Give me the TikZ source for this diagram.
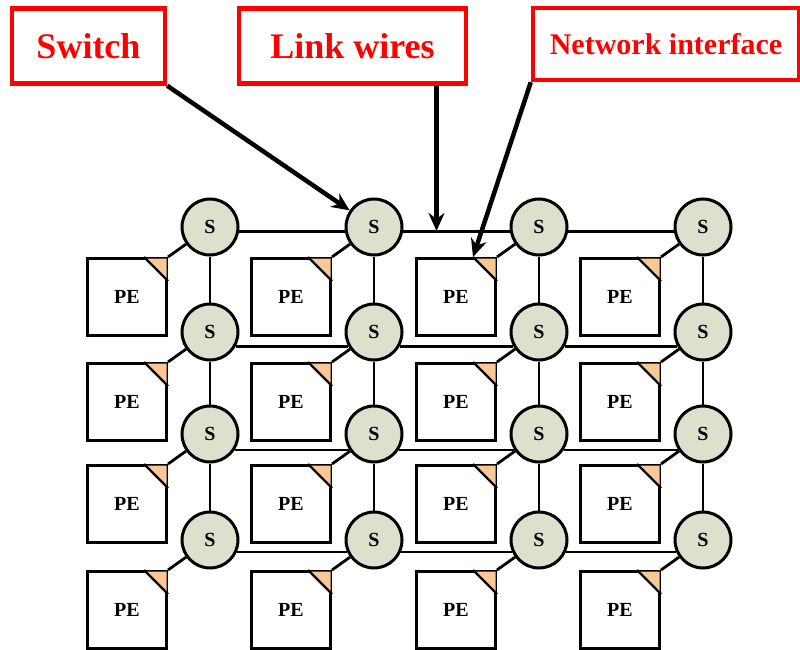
\documentclass[tikz,border=0pt]{standalone}
\usepackage{fontspec}
\setmainfont{Liberation Serif}
\usetikzlibrary{arrows.meta,calc}
\definecolor{swfill}{RGB}{221,224,204}
\definecolor{nifill}{RGB}{250,200,150}
\definecolor{lblred}{RGB}{255,0,0}
\tikzset{
  switchnode/.style={circle,draw=black,line width=3pt,fill=swfill,minimum size=56pt,inner sep=0pt,font=\fontsize{20}{20}\selectfont\bfseries},
  penode/.style={rectangle,draw=black,line width=3pt,fill=white,minimum width=79pt,minimum height=77pt,inner sep=0pt,font=\fontsize{20}{20}\selectfont\bfseries},
  wire/.style={line width=2.8pt},
  lbl/.style={rectangle,draw=lblred,line width=4.5pt,text=lblred,inner sep=0pt,font=\bfseries},
  callout/.style={line width=4.5pt,-{Stealth[length=18pt,width=16pt]}},
}
\begin{document}
\begin{tikzpicture}[x=1pt,y=-1pt]
\useasboundingbox (0,0) rectangle (800,650);
\def\colx{{210,374,539,703}}
\def\rowy{{227,332,434,540}}
\foreach \i in {0,...,3}{
  \foreach \j in {0,...,3}{
    \pgfmathsetmacro{\sx}{\colx[\j]}
    \pgfmathsetmacro{\sy}{\rowy[\i]}
    \node[penode,anchor=north east] (p\i\j) at (\sx-42,\sy+30) {PE};
    \fill[nifill] (p\i\j.north east) ++(-24,1.5) -- ++(22.5,0) -- ++(0,22.5) -- cycle;
    \draw[line width=2.4pt] (p\i\j.north east) ++(-24,0) -- ++(24,24);
  }
}
\foreach \i in {0,...,3}{
  \foreach \j in {0,...,3}{
    \pgfmathsetmacro{\sx}{\colx[\j]}
    \pgfmathsetmacro{\sy}{\rowy[\i]}
    \node[switchnode] (s\i\j) at (\sx,\sy) {S};
  }
}
% vertical links
\foreach \i/\k in {0/1,1/2,2/3}{
  \foreach \j in {0,...,3}{
    \draw[wire] (s\i\j) -- (s\k\j);
  }
}
% horizontal links
\foreach \i/\a in {0/8,1/29,2/33,3/24}{
  \foreach \j/\k in {0/1,1/2,2/3}{
    \draw[wire] (s\i\j.-\a) -- (s\i\k.180+\a);
  }
}
% switch to PE
\foreach \i in {0,...,3}{
  \foreach \j in {0,...,3}{
    \draw[wire] (p\i\j.north east) -- (s\i\j);
  }
}
% labels
\node[lbl,minimum width=153pt,minimum height=75pt,font=\fontsize{36}{36}\selectfont\bfseries] (lsw) at (88.5,46) {Switch};
\node[lbl,minimum width=227pt,minimum height=75pt,font=\fontsize{36}{36}\selectfont\bfseries] (llw) at (352.5,46) {Link wires};
\node[lbl,minimum width=266pt,minimum height=72pt,font=\fontsize{30}{30}\selectfont\bfseries] (lni) at (666,44) {Network interface};
\coordinate (lwsrc) at ($(llw.south)+(84,0)$);
\coordinate (lwtip) at ($(lwsrc|-s00.east)+(0,4)$);
\coordinate (nitip) at ($(p02.north east)+(-24,0)$);
\draw[callout] (lsw.south east) -- (s01);
\draw[callout] (lwsrc) -- (lwtip);
\draw[callout] (lni.south west) -- (nitip);
\end{tikzpicture}
\end{document}
